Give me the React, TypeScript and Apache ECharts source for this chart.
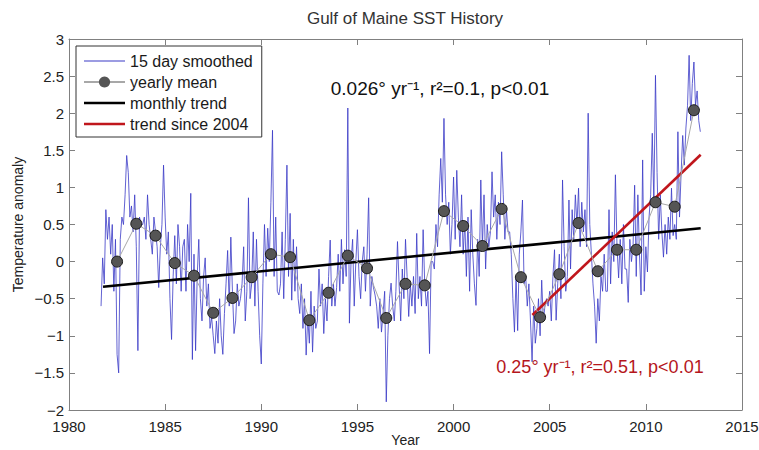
import React, { useEffect, useRef } from "react";
import * as echarts from "echarts";

// 15-day smoothed anomaly, sampled monthly from Sep 1981
const smoothedStartYear = 1981 + 8 / 12;
const smoothedStep = 1 / 12;
const smoothedValues: number[] = [
  // 1981 (Sep-Dec)
  -0.6, 0.05, -0.3, 0.7,
  // 1982
  0.3, 0.6, 0.1, 0.5, -0.4, 0.3, -1.25, -1.5, 0.3, 0.6, 0.5, 0.9,
  // 1983
  1.43, 1.2, 0.6, 0.75, 0.4, 0.9, 0.2, -1.2, 0.6, 0.5, 0.5, 0.6,
  // 1984
  0.3, 0.9, 0.5, 0.3, 0.1, 0.6, 0.4, 0.2, -0.35, 0.2, 0.5, 1.3,
  // 1985
  0.6, 0.1, 0.4, -0.5, -1.05, -0.2, 0.35, -0.3, 0.5, 0.2, -0.4, 0.2,
  // 1986
  0.3, -0.4, 0.5, 0.0, 0.92, -1.32, 0.1, -1.2, -0.2, 0.3, -0.5, -0.8,
  // 1987
  -0.2, 0.05, -0.6, -0.3, -0.9, -0.75, -1.0, -1.24, -0.8, -1.1, -0.5, -1.0,
  // 1988
  -1.25, -0.7, -0.3, 0.15, -0.6, 0.33, -0.4, -0.97, -0.8, -0.3, -0.6, -0.5,
  // 1989
  -0.3, 0.2, -0.8, -0.4, 0.86, -0.5, -0.3, 0.4, -0.6, 0.3, -0.4, -1.0,
  // 1990
  -1.38, -0.3, 0.5, -0.2, 0.45, 0.0, 0.8, 1.77, -0.2, 0.6, -0.4, -0.45,
  // 1991
  -0.3, 0.4, -0.5, 0.3, 1.3, -0.2, 0.65, -0.52, 0.3, -0.4, 0.2, -0.5,
  // 1992
  -0.7, -0.3, -0.9, -0.5, -1.26, -0.75, -1.1, -0.4, -1.22, -0.6, -0.9, -0.8,
  // 1993
  -0.1, -0.6, -0.3, -0.97, -0.5, -0.8, -0.2, 0.29, -0.6, -0.3, -0.6, -0.35,
  // 1994
  0.1, -0.4, 0.3, -0.3, 0.16, -0.2, 2.07, -0.83, 0.0, 0.3, -0.6, 0.0,
  // 1995
  0.43, -0.2, -0.5, 0.0, 0.2, -0.4, 0.1, 0.86, -0.6, -0.2, -0.35, -0.45,
  // 1996
  -0.6, -0.9, -0.5, -0.95, -0.7, -0.4, -1.89, -1.0, -0.5, -0.29, -0.6, -0.8,
  // 1997
  -0.4, 0.27, -0.3, -0.8, -0.1, -0.5, 0.3, -0.2, -0.74, -0.3, -0.6, -0.2,
  // 1998
  -0.7, 0.38, -0.5, -0.2, -0.6, 0.43, -0.3, -0.6, -0.4, -1.24, 0.0, 0.0,
  // 1999
  -0.1, 0.5, 0.2, 0.9, 1.39, 0.8, 1.93, 0.9, 0.5, 0.8, 0.1, 0.5,
  // 2000
  1.14, 0.3, 1.23, 0.6, 0.2, 0.9, 0.1, 0.55, -0.2, 0.6, -0.4, 0.7,
  // 2001
  0.1, -0.3, -0.59, 0.3, -0.2, 1.1, 0.2, 0.9, -0.1, 0.5, 0.2, 0.4,
  // 2002
  1.21, 0.6, 0.9, 0.3, 0.8, 0.5, 1.48, 0.9, 0.3, 0.7, 0.4, 0.4,
  // 2003
  0.1, -0.5, -0.95, -0.2, -0.93, 0.1, 0.4, 0.83, -0.3, -0.2, -0.6, -0.3,
  // 2004
  -0.8, -1.35, -0.6, -1.1, -0.9, -0.5, -1.0, -0.25, -0.8, -0.6, -0.5, -0.6,
  // 2005
  -0.4, -0.8, -0.2, 0.16, -0.79, -0.3, 0.1, -0.5, 1.1, 0.2, -0.4, -0.2,
  // 2006
  0.83, -0.1, 0.7, 0.3, 0.9, 0.5, 0.99, 0.2, 0.8, 0.4, 0.7, 0.2,
  // 2007
  2.0, 0.5, 0.1, -0.3, -0.6, -1.1, -0.5, -0.8, -0.2, -0.4, 0.1, -0.4,
  // 2008
  -0.4, 0.7, -0.3, 0.4, 0.0, 1.17, 0.2, -0.22, 0.3, -0.3, 0.5, -0.1,
  // 2009
  -0.1, -0.55, 0.3, 0.0, 0.2, 1.03, -0.2, 0.9, 0.1, -0.45, 1.37, -0.4,
  // 2010
  0.2, -0.14, 0.6, 0.9, 1.73, 0.8, 2.51, 1.2, 0.3, 0.9, 0.4, 0.06,
  // 2011
  0.5, 0.1, 0.6, 0.3, 0.99, 0.35, 0.5, 0.3, 1.75, 0.6, 1.2, 1.7,
  // 2012 (Jan-Nov)
  1.3, 1.8, 2.1, 2.78, 1.9, 2.4, 2.69, 2.1, 2.3, 1.9, 1.75,
];

const yearlyYears = [
  1982, 1983, 1984, 1985, 1986, 1987, 1988, 1989, 1990, 1991, 1992, 1993,
  1994, 1995, 1996, 1997, 1998, 1999, 2000, 2001, 2002, 2003, 2004, 2005,
  2006, 2007, 2008, 2009, 2010, 2011, 2012,
];
const yearlyMeans = [
  0.0, 0.51, 0.35, -0.02, -0.19, -0.69, -0.49, -0.21, 0.1, 0.06, -0.79, -0.42,
  0.08, -0.09, -0.76, -0.3, -0.32, 0.68, 0.48, 0.21, 0.71, -0.21, -0.75, -0.17,
  0.52, -0.13, 0.16, 0.16, 0.8, 0.74, 2.04,
];

const monthlyTrend: [number, number][] = [
  [1981.77, -0.34],
  [2012.85, 0.45],
];
const trendSince2004: [number, number][] = [
  [2004.1, -0.72],
  [2012.85, 1.44],
];

const seriesNames = [
  "15 day smoothed",
  "yearly mean",
  "monthly trend",
  "trend since 2004",
];

const xTicks = { min: 1980, max: 2015, interval: 5 };
const yTicks = { min: -2, max: 3, interval: 0.5 };

const FONT = "'Liberation Sans', Arial, Helvetica, sans-serif";
const AXIS_COLOR = "#808080";

// legend glyphs: a horizontal bar of given thickness inside a 41x14 box
const lineIcon = (t: number) => {
  const a = 7 - t / 2;
  const b = 7 + t / 2;
  return `path://M0,0L0.05,0L0,0.05Z M0,${a}L41,${a}L41,${b}L0,${b}Z M41,14L40.95,14L41,13.95Z`;
};

const fmt = (v: number) => (v < 0 ? "\u2212" + String(Math.abs(v)) : String(v));

export default function App() {
  const ref = useRef<HTMLDivElement>(null);

  useEffect(() => {
    if (!ref.current) return;
    const chart = echarts.init(ref.current, undefined, { renderer: "svg" });

    const smoothedData = smoothedValues.map((v, i) => [
      smoothedStartYear + i * smoothedStep,
      v,
    ]);
    const yearlyData = yearlyYears.map((y, i) => [y + 0.5, yearlyMeans[i]]);

    const baseX = {
      type: "value" as const,
      min: xTicks.min,
      max: xTicks.max,
      interval: xTicks.interval,
      splitLine: { show: false },
      axisLine: { show: true, onZero: false, lineStyle: { color: AXIS_COLOR, width: 1 } },
      axisTick: { show: true, inside: true, length: 6, lineStyle: { color: AXIS_COLOR } },
    };
    const baseY = {
      type: "value" as const,
      min: yTicks.min,
      max: yTicks.max,
      interval: yTicks.interval,
      splitLine: { show: false },
      axisLine: { show: true, onZero: false, lineStyle: { color: AXIS_COLOR, width: 1 } },
      axisTick: { show: true, inside: true, length: 6, lineStyle: { color: AXIS_COLOR } },
    };

    chart.setOption({
      animation: false,
      backgroundColor: "#ffffff",
      textStyle: { fontFamily: FONT },
      grid: {
        left: 69,
        right: 17,
        top: 39,
        bottom: 40,
        containLabel: false,
        outerBoundsMode: "none",
      },
      legend: {
        data: [
          { name: seriesNames[0], icon: lineIcon(1) },
          { name: seriesNames[1] },
          { name: seriesNames[2], icon: lineIcon(2.6) },
          { name: seriesNames[3], icon: lineIcon(2.6) },
        ],
        orient: "vertical",
        left: 76,
        top: 46,
        itemWidth: 41,
        itemHeight: 14,
        itemGap: 5,
        padding: [7, 9, 5, 7],
        borderColor: "#333",
        borderWidth: 1,
        backgroundColor: "#ffffff",
        selectedMode: false,
        itemStyle: { borderWidth: 0 },
        textStyle: { fontSize: 16, color: "#1a1a1a", lineHeight: 16, fontFamily: FONT },
        z: 10,
      },
      xAxis: [
        {
          ...baseX,
          position: "bottom",
          axisLabel: {
            color: "#222",
            fontSize: 15,
            margin: 9,
            fontFamily: FONT,
            formatter: (v: number) => String(v),
          },
          name: "Year",
          nameLocation: "middle",
          nameGap: 23,
          nameMoveOverlap: false,
          nameTextStyle: { fontSize: 14, color: "#222", fontFamily: FONT },
        },
        { ...baseX, position: "top", axisLabel: { show: false } },
      ],
      yAxis: [
        {
          ...baseY,
          position: "left",
          axisLabel: {
            color: "#222",
            fontSize: 15,
            margin: 5,
            fontFamily: FONT,
            formatter: (v: number) => fmt(v),
          },
          name: "Temperature anomaly",
          nameLocation: "middle",
          nameGap: 44,
          nameMoveOverlap: false,
          nameTextStyle: { fontSize: 14, color: "#222", fontFamily: FONT },
        },
        { ...baseY, position: "right", axisLabel: { show: false } },
      ],
      series: [
        {
          name: seriesNames[0],
          type: "line",
          data: smoothedData,
          symbol: "none",
          showSymbol: false,
          lineStyle: { color: "#3a3ac6", width: 0.8 },
          itemStyle: { color: "#3a3ac6" },
          z: 2,
        },
        {
          name: seriesNames[1],
          type: "line",
          data: yearlyData,
          symbol: "circle",
          symbolSize: 11,
          lineStyle: { color: "#a8a8a8", width: 1 },
          itemStyle: { color: "#555555", borderColor: "#1a1a1a", borderWidth: 1 },
          z: 6,
        },
        {
          name: seriesNames[2],
          type: "line",
          data: monthlyTrend,
          symbol: "none",
          lineStyle: { color: "#000000", width: 2.6 },
          itemStyle: { color: "#000000" },
          z: 4,
        },
        {
          name: seriesNames[3],
          type: "line",
          data: trendSince2004,
          symbol: "none",
          lineStyle: { color: "#c0161c", width: 2.6 },
          itemStyle: { color: "#c0161c" },
          z: 4,
        },
      ],
      graphic: [
        {
          type: "text",
          x: 405,
          y: 18,
          style: {
            text: "Gulf of Maine SST History",
            fontSize: 17,
            fontFamily: FONT,
            fill: "#333",
            align: "center",
            verticalAlign: "middle",
          },
        },
        {
          type: "text",
          x: 440,
          y: 88,
          z: 20,
          style: {
            text: "0.026\u00b0 yr\u207b\u00b9, r\u00b2=0.1, p<0.01",
            fontSize: 19,
            fontFamily: FONT,
            fill: "#111",
            align: "center",
            verticalAlign: "middle",
          },
        },
        {
          type: "text",
          x: 600,
          y: 367,
          z: 20,
          style: {
            text: "0.25\u00b0 yr\u207b\u00b9, r\u00b2=0.51, p<0.01",
            fontSize: 18,
            fontFamily: FONT,
            fill: "#b5161c",
            align: "center",
            verticalAlign: "middle",
          },
        },
      ],
    });

    return () => chart.dispose();
  }, []);

  return (
    <div
      ref={ref}
      style={{ position: "absolute", left: 0, top: 0, width: 759, height: 450 }}
    />
  );
}
